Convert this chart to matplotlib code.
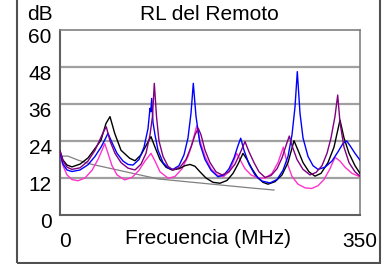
import matplotlib
matplotlib.use("Agg")
import matplotlib.pyplot as plt
from matplotlib.patches import Rectangle
from matplotlib.transforms import ScaledTranslation

plt.rcParams["font.family"] = ["Liberation Sans", "DejaVu Sans"]

# pixel x positions -> MHz (0..350 over 300 px)
def px2mhz(xs):
    return [(x - 60) * 350 / 300 for x in xs]

# limite (gris)
lim_x = px2mhz([60, 68, 78, 91, 158, 250, 274])
lim_y = [19.1, 19.1, 17.8, 16.5, 11.7, 8.8, 8.1]

# negro
neg_x = px2mhz([60, 63, 67, 72, 80, 88, 96, 101, 106, 110, 114.7, 121, 129.7, 135,
                141, 146, 151, 155, 160, 166, 172, 179, 185, 190, 195, 200, 206, 213,
                220, 227, 233, 238, 243, 247, 252, 258, 263, 268, 275, 282, 288, 294,
                298, 303, 309, 315, 321, 328, 334, 340, 344, 349, 355, 360])
neg_y = [20.8, 17.8, 16.2, 15.6, 16.5, 18.5, 22, 24.3, 29.7, 31.9, 26.5, 21, 18.4, 17.6,
         19.5, 22.5, 25.4, 22, 18, 15.5, 14.6, 15, 16, 16.4, 15.8, 14, 12, 10.6,
         10.3, 11.2, 13.5, 16.5, 20, 18, 15, 12, 10.6, 10.0, 10.8, 13, 17, 24.1,
         21, 17, 14, 12.6, 13.5, 17, 22, 30.8, 25, 20, 16, 13.5]

# azul
azu_x = px2mhz([60, 63, 67, 72, 80, 88, 95, 101, 105, 108, 112, 117, 123, 128, 133,
                139, 144, 148, 150, 150.8, 151.7, 153, 155, 158, 163, 168, 173, 179,
                184, 188, 191, 193.3, 196, 200, 205, 211, 218, 224, 229, 234, 238,
                240.7, 244, 249, 255, 262, 270, 277, 283, 288, 292, 295, 297.3, 300,
                303, 308, 313, 318, 325, 332, 338, 343, 346.7, 350, 355, 360])
azu_y = [20, 16.5, 14.6, 14.1, 14.6, 16.3, 19, 22, 24.5, 26.5, 23.5, 20, 17.5, 16.4, 16.2,
         18, 22, 28, 34.6, 33.5, 37.8, 30, 26, 21, 17, 15.3, 14.8, 16,
         19.5, 25, 33, 42.7, 32, 23, 18, 14.5, 12.4, 13, 15, 18.5, 22.5,
         24.9, 21, 16.5, 13, 11, 10.4, 11.5, 14.5, 19, 26, 35, 46.5, 33,
         25, 19, 16, 14.8, 15.5, 17.5, 20.5, 23.2, 24, 22.5, 20, 17.8]

# morado
mor_x = px2mhz([60, 63, 67, 72, 80, 88, 95, 100, 103.5, 106.3, 110, 115, 121, 128, 135,
                141, 146, 150, 152.5, 154.3, 156.5, 159, 163, 168, 173, 180, 186, 191,
                195, 198.3, 201, 205, 210, 216, 222, 229, 235, 240, 245, 249, 254, 259,
                265, 271, 277, 282, 286, 289.3, 292, 297, 303, 310, 316, 322, 327, 331,
                335, 337.7, 340, 344, 349, 355, 360])
mor_y = [20.8, 17.5, 15.5, 14.8, 15.3, 17.5, 21, 24.5, 27, 28.6, 24, 20, 17, 15.2, 14.6,
         16.5, 20, 26, 32, 42.7, 32, 24, 19, 15.8, 14.6, 15.5, 18, 22,
         26, 28.1, 26, 21, 17, 14, 13, 14, 16.5, 20, 23.8, 20.5, 17, 14,
         12.2, 12.8, 15, 18.5, 22.5, 25.6, 22.5, 18, 14.8, 13, 13.8, 16, 20, 25,
         32, 38.9, 30, 22, 17, 14, 12.6]

# rosa
ros_x = px2mhz([60, 63, 67, 72, 78, 85, 92, 98, 102, 104.7, 108, 112, 117, 124.7, 132,
                139, 145, 151, 155, 160, 168.3, 175, 182, 188, 192, 196.7, 200, 205,
                211, 217, 223.3, 229, 233, 236.7, 240, 245, 251, 258, 265, 272, 278,
                283.3, 287, 292, 298, 305, 311.7, 318, 324, 330, 335, 340, 345, 352, 360])
ros_y = [19.5, 16, 13, 11.5, 11.1, 12, 14.5, 18, 21, 23.2, 20, 16, 13, 11.4, 12.2,
         14.5, 17.5, 20, 17.5, 14, 11.9, 12.5, 15, 19, 23, 28.9, 24, 19,
         15, 13, 12.4, 14, 17, 20, 18, 15, 13, 12, 11.9, 13.5, 17,
         22, 17, 12.5, 10, 8.8, 8.6, 9.5, 11.5, 15, 18.7, 17.5, 15.5, 13.5, 12.4]

W, H = 391, 264
FS = 15
fig = plt.figure(figsize=(W / 100, H / 100), dpi=100, facecolor="white")
ax = fig.add_axes([60 / W, (H - 215) / H, 300 / W, 185 / H])

# marco exterior
fig.patches.append(Rectangle((17 / W, 1 / H), 363 / W, 1.2, transform=fig.transFigure,
                             fill=False, edgecolor="#505050", lw=1.5))

for v in [12, 24, 36, 48]:
    ax.axhline(v, color="#a0a0a0", lw=1.6, zorder=1)

ax.plot(lim_x, lim_y, color="#808080", lw=0.9, zorder=2)
ax.plot(ros_x, ros_y, color="#ff33cc", lw=1.0, zorder=3)
ax.plot(neg_x, neg_y, color="black", lw=1.0, zorder=4)
ax.plot(mor_x, mor_y, color="#800080", lw=1.0, zorder=5)
ax.plot(azu_x, azu_y, color="#0000ff", lw=1.0, zorder=4)

ax.set_xlim(0, 350)
ax.set_ylim(0, 60)
ax.set_yticks([0, 12, 24, 36, 48, 60])
ax.set_xticks([0, 350])
ax.tick_params(length=0, labelsize=FS, pad=6)
ax.tick_params(axis="x", pad=12)
for lab in ax.get_yticklabels():
    lab.set_transform(lab.get_transform() + ScaledTranslation(0, -4 / 72, fig.dpi_scale_trans))
ax.get_xticklabels()[0].set_transform(
    ax.get_xticklabels()[0].get_transform() + ScaledTranslation(5 / 100, 0, fig.dpi_scale_trans))

for s in ["top", "right"]:
    ax.spines[s].set_color("#808080")
    ax.spines[s].set_linewidth(1.2)
for s in ["left", "bottom"]:
    ax.spines[s].set_color("#606060")
    ax.spines[s].set_linewidth(1.5)

fig.text(209 / W, 1 - 14 / H, "RL del Remoto", ha="center", va="center", fontsize=FS)
fig.text(40 / W, 1 - 14 / H, "dB", ha="center", va="center", fontsize=FS)
fig.text(208 / W, 1 - 239 / H, "Frecuencia (MHz)", ha="center", va="center", fontsize=FS)

fig.savefig("out.png", dpi=100, facecolor="white")
